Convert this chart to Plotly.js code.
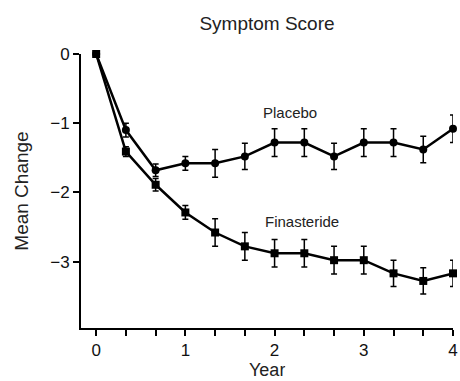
<!DOCTYPE html>
<html>
<head>
<meta charset="utf-8">
<script src="https://cdn.plot.ly/plotly-3.0.1.min.js"></script>
<style>html,body{margin:0;padding:0;background:#fff;}#chart{width:460px;height:381px;}</style>
</head>
<body>
<div id="chart"></div>
<script>
const years = [0, 1/3, 2/3, 1, 4/3, 5/3, 2, 7/3, 8/3, 3, 10/3, 11/3, 4];
const placebo = [0, -1.10, -1.68, -1.58, -1.58, -1.48, -1.28, -1.28, -1.48, -1.28, -1.28, -1.38, -1.08];
const placeboErr = [0, 0.10, 0.09, 0.10, 0.20, 0.19, 0.20, 0.20, 0.19, 0.20, 0.20, 0.19, 0.20];
const finasteride = [0, -1.41, -1.89, -2.29, -2.58, -2.78, -2.88, -2.88, -2.98, -2.98, -3.17, -3.28, -3.17];
const finasterideErr = [0, 0.07, 0.09, 0.10, 0.20, 0.20, 0.20, 0.20, 0.20, 0.20, 0.19, 0.19, 0.19];
const xTickVals = [0, 1/3, 2/3, 1, 4/3, 5/3, 2, 7/3, 8/3, 3, 10/3, 11/3, 4];
const xTickText = ['0', '', '', '1', '', '', '2', '', '', '3', '', '', '4'];
const yTickVals = [0, -1, -2, -3];

const font = 'Liberation Sans, Arial, Helvetica, sans-serif';
const traces = [
  {
    x: years, y: placebo, name: 'Placebo', type: 'scatter', mode: 'lines+markers',
    line: {color: '#000', width: 2.5},
    marker: {symbol: 'circle', size: 8, color: '#000'},
    error_y: {type: 'data', array: placeboErr, visible: true, color: '#000', thickness: 1.5, width: 3},
    cliponaxis: false
  },
  {
    x: years, y: finasteride, name: 'Finasteride', type: 'scatter', mode: 'lines+markers',
    line: {color: '#000', width: 2.5},
    marker: {symbol: 'square', size: 8, color: '#000'},
    error_y: {type: 'data', array: finasterideErr, visible: true, color: '#000', thickness: 1.5, width: 3},
    cliponaxis: false
  }
];

const layout = {
  width: 460, height: 381,
  margin: {l: 81, r: 7, t: 54, b: 53},
  paper_bgcolor: '#fff', plot_bgcolor: '#fff',
  showlegend: false,
  font: {family: font, color: '#111', size: 15},
  title: {text: 'Symptom Score', font: {family: font, size: 19, color: '#222'}, x: 0.5, xref: 'paper', xanchor: 'center', y: 0.94, yref: 'container', yanchor: 'middle'},
  xaxis: {
    range: [-0.17, 4], showgrid: false, zeroline: false,
    showline: true, linecolor: '#000', linewidth: 2,
    tickmode: 'array', tickvals: xTickVals, ticktext: xTickText,
    ticks: 'outside', ticklen: 6, tickwidth: 2, tickcolor: '#000',
    tickfont: {family: font, size: 17, color: '#111'}
  },
  yaxis: {
    range: [-3.96, 0], showgrid: false, zeroline: false,
    showline: true, linecolor: '#000', linewidth: 2,
    tickmode: 'array', tickvals: yTickVals,
    ticks: 'outside', ticklen: 6, tickwidth: 2, tickcolor: '#000',
    tickfont: {family: font, size: 17, color: '#111'},
    title: {text: 'Mean Change', font: {family: font, size: 19, color: '#222'}, standoff: 17}
  },
  annotations: [
    {x: 2.17, y: -0.84, xref: 'x', yref: 'y', text: 'Placebo', showarrow: false, font: {family: font, size: 15, color: '#222'}},
    {x: 2.31, y: -2.42, xref: 'x', yref: 'y', text: 'Finasteride', showarrow: false, font: {family: font, size: 15, color: '#222'}},
    {x: 0.5, y: 0, xref: 'paper', yref: 'paper', xanchor: 'center', yanchor: 'bottom', yshift: -53, height: 18, text: 'Year', showarrow: false, font: {family: font, size: 18, color: '#222'}}
  ]
};

Plotly.newPlot('chart', traces, layout, {displayModeBar: false, staticPlot: true});
</script>
</body>
</html>
